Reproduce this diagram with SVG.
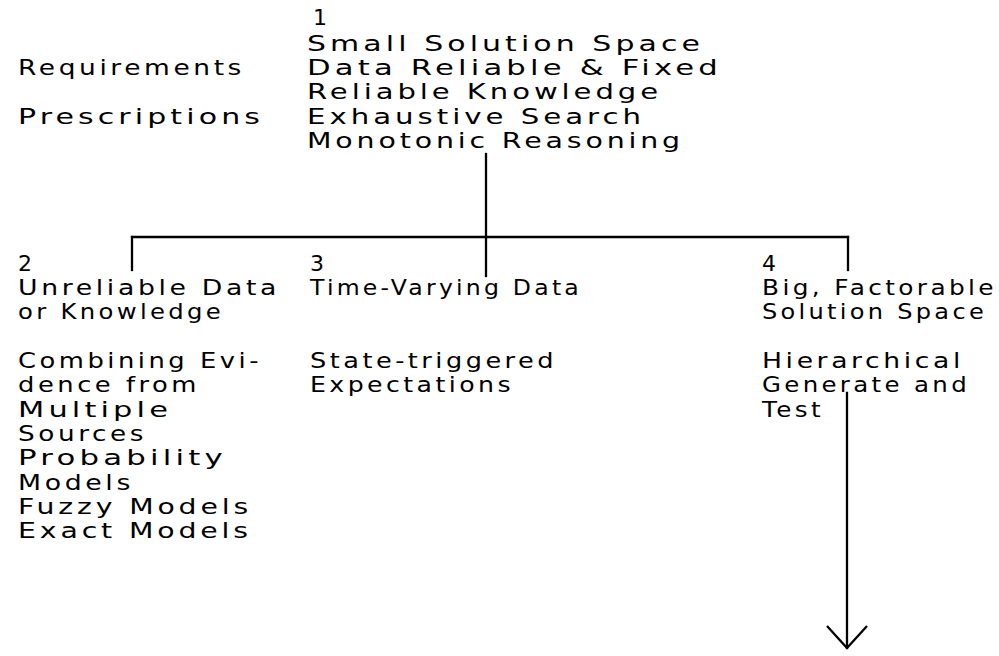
<svg xmlns="http://www.w3.org/2000/svg" width="999" height="656" viewBox="0 0 999 656">
  <style>
    text { font-family: "DejaVu Sans", "Liberation Sans", sans-serif; font-size: 22px; letter-spacing: 3px; fill: #000; }
    .fit { }
    .wire { stroke: #000; stroke-width: 2.3; fill: none; stroke-linecap: square; }
  </style>
  <defs>
    <!-- open V arrowhead, drawn along +x so orient="auto" points it down the line -->
    <marker id="vee" viewBox="0 0 24 44" refX="23" refY="22" markerWidth="24" markerHeight="44" markerUnits="userSpaceOnUse" orient="auto">
      <path d="M1 2 L23 22 L1 42" fill="none" stroke="#000" stroke-width="2.3"/>
    </marker>
  </defs>

  <!-- row labels on the left -->
  <g id="row-labels">
    <text x="18" y="75" textLength="227" lengthAdjust="spacingAndGlyphs">Requirements</text>
    <text x="18" y="124" textLength="246" lengthAdjust="spacingAndGlyphs">Prescriptions</text>
  </g>

  <!-- root: small solution space -->
  <g id="node-1">
    <text x="313" y="25">1</text>
    <text x="307" y="51" textLength="397" lengthAdjust="spacingAndGlyphs">Small Solution Space</text>
    <text x="307" y="75" textLength="415" lengthAdjust="spacingAndGlyphs">Data Reliable &amp; Fixed</text>
    <text x="307" y="99" textLength="355" lengthAdjust="spacingAndGlyphs">Reliable Knowledge</text>
    <text x="307" y="124" textLength="338" lengthAdjust="spacingAndGlyphs">Exhaustive Search</text>
    <text x="307" y="148" textLength="377" lengthAdjust="spacingAndGlyphs">Monotonic Reasoning</text>
  </g>

  <!-- branch 2: unreliable data or knowledge -->
  <g id="node-2">
    <text x="18" y="271">2</text>
    <text x="18" y="295" textLength="262" lengthAdjust="spacingAndGlyphs">Unreliable Data</text>
    <text x="18" y="319" textLength="206" lengthAdjust="spacingAndGlyphs">or Knowledge</text>
    <text x="18" y="368" textLength="244" lengthAdjust="spacingAndGlyphs">Combining Evi-</text>
    <text x="18" y="392" textLength="182" lengthAdjust="spacingAndGlyphs">dence from</text>
    <text x="18" y="417" textLength="154" lengthAdjust="spacingAndGlyphs">Multiple</text>
    <text x="18" y="441" textLength="129" lengthAdjust="spacingAndGlyphs">Sources</text>
    <text x="18" y="465" textLength="209" lengthAdjust="spacingAndGlyphs">Probability</text>
    <text x="18" y="490" textLength="116" lengthAdjust="spacingAndGlyphs">Models</text>
    <text x="18" y="514" textLength="234" lengthAdjust="spacingAndGlyphs">Fuzzy Models</text>
    <text x="18" y="538" textLength="234" lengthAdjust="spacingAndGlyphs">Exact Models</text>
  </g>

  <!-- branch 3: time-varying data -->
  <g id="node-3">
    <text x="310" y="271">3</text>
    <text x="310" y="295" textLength="272" lengthAdjust="spacingAndGlyphs">Time-Varying Data</text>
    <text x="310" y="368" textLength="247" lengthAdjust="spacingAndGlyphs">State-triggered</text>
    <text x="310" y="392" textLength="204" lengthAdjust="spacingAndGlyphs">Expectations</text>
  </g>

  <!-- branch 4: big, factorable solution space -->
  <g id="node-4">
    <text x="762" y="271">4</text>
    <text x="762" y="295" textLength="235" lengthAdjust="spacingAndGlyphs">Big, Factorable</text>
    <text x="762" y="319" textLength="225" lengthAdjust="spacingAndGlyphs">Solution Space</text>
    <text x="762" y="368" textLength="202" lengthAdjust="spacingAndGlyphs">Hierarchical</text>
    <text x="762" y="392" textLength="208" lengthAdjust="spacingAndGlyphs">Generate and</text>
    <text x="762" y="417" textLength="62" lengthAdjust="spacingAndGlyphs">Test</text>
  </g>

  <g id="connectors">
    <line class="wire" x1="486" y1="154" x2="486" y2="276"/>
    <line class="wire" x1="132" y1="237" x2="848" y2="237"/>
    <line class="wire" x1="132" y1="237" x2="132" y2="270"/>
    <line class="wire" x1="848" y1="237" x2="848" y2="270"/>
    <line class="wire" x1="847" y1="393" x2="847" y2="648" marker-end="url(#vee)"/>
  </g>
</svg>
